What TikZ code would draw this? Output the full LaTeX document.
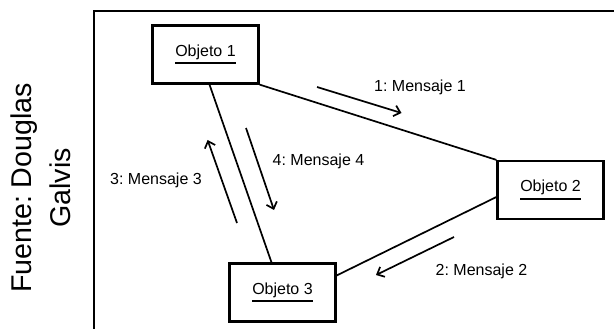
\documentclass[tikz,border=0pt]{standalone}
\usepackage{fontspec}
\setmainfont{Liberation Sans}
\usetikzlibrary{arrows.meta,positioning,calc}
\frenchspacing
\newcommand{\objname}[1]{\setbox0\hbox{#1}\rlap{\vrule width\wd0 height -6pt depth 8pt}\box0}

\begin{document}
\begin{tikzpicture}[x=1pt,y=-1pt,>={Straight Barb[length=6pt,width=11pt]},
    obj/.style={draw,line width=2.2pt,minimum width=106pt,minimum height=58pt,inner sep=0pt,
      font=\fontsize{16}{18}\selectfont},
    msg/.style={inner sep=0pt,font=\fontsize{16}{18}\selectfont},
    link/.style={line width=1.7pt}]
    \useasboundingbox (0,0) rectangle (614,329);
    \draw[link] (94,329) -- (94,11) -- (614,11);
    \node[rotate=90,align=center,inner sep=0pt,font=\fontsize{28.6}{39}\selectfont] (src) at (41,188) {Fuente: Douglas\\Galvis};
    \node[obj] (o1) at (205.5,54.5) {\objname{Objeto 1}};
    \node[obj] (o2) at (550.5,190) {\objname{Objeto 2}};
    \node[obj] (o3) at (282.5,292.5) {\objname{Objeto 3}};
    \draw[link] (o1.south east) -- (o2.north west);
    \draw[link] ([xshift=4pt]o1.south) -- ([xshift=-11pt]o3.north);
    \draw[link] ([yshift=-7pt]o2.west) -- ([yshift=17pt]o3.east);
    % mensajes
    \coordinate (m1a) at (317,87);    \coordinate (m1b) at (401.5,113);
    \coordinate (m2a) at (454,237);   \coordinate (m2b) at (376,275);
    \coordinate (m3a) at (237,223);   \coordinate (m3b) at (207.6,140);
    \coordinate (m4a) at (246,128);   \coordinate (m4b) at (274,210);
    \foreach \u/\v in {m1a/m1b,m2a/m2b,m3a/m3b,m4a/m4b}\draw[->,link] (\u)--(\v);
    \node[msg] (l1) at (420,87) {1: Mensaje 1};
    \node[msg] (l2) at (481.5,271) {2: Mensaje 2};
    \node[msg] (l3) at (156,180) {3: Mensaje 3};
    \node[msg] (l4) at (318.5,161.5) {4: Mensaje 4};
  \end{tikzpicture}
\end{document}
